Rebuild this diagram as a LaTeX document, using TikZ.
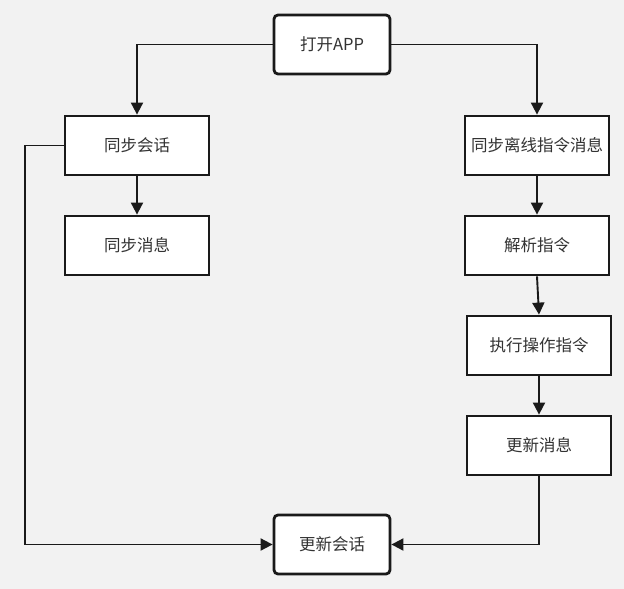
\documentclass[tikz,border=0pt]{standalone}
\usepackage{fontspec}
\setmainfont{Noto Sans CJK SC}
\usetikzlibrary{arrows.meta}
\definecolor{bg}{HTML}{F2F2F2}
\definecolor{ink}{HTML}{1A1A1A}
\definecolor{txt}{HTML}{333333}
\begin{document}
\begin{tikzpicture}[x=1pt,y=-1pt,
  box/.style={draw=ink,line width=2.8pt,fill=white,minimum width=144pt,minimum height=59pt,inner sep=0pt,font=\fontsize{16.5}{19}\selectfont,text=txt},
  rbox/.style={box,rounded corners=4pt,minimum width=116pt},
  conn/.style={draw=ink,line width=1.9pt,-{Triangle[length=12pt,width=12pt]}}]
\fill[bg] (0,0) rectangle (624,589);
\useasboundingbox (0,0) rectangle (624,589);
\node[rbox] (app) at (332,44.5) {打开APP};
\node[box] (tbhh) at (137,145.5) {同步会话};
\node[box] (tbxx) at (137,245.5) {同步消息};
\node[box] (lx) at (537,145.5) {同步离线指令消息};
\node[box] (jx) at (537,245.5) {解析指令};
\node[box] (zx) at (539,345.5) {执行操作指令};
\node[box] (gxxx) at (539,445.5) {更新消息};
\node[rbox] (gxhh) at (332,544.5) {更新会话};
\coordinate (lcorner) at (25,145.5);
\draw[conn] (app.west) -| (tbhh.north);
\draw[conn] (app.east) -| (lx.north);
\draw[conn] (tbhh.south) -- (tbxx.north);
\draw[conn] (lx.south) -- (jx.north);
\draw[conn] (jx.south) -- (zx.north);
\draw[conn] (zx.south) -- (gxxx.north);
\draw[conn] (tbhh.west) -- (lcorner) |- (gxhh.west);
\draw[conn] (gxxx.south) |- (gxhh.east);
\end{tikzpicture}
\end{document}
